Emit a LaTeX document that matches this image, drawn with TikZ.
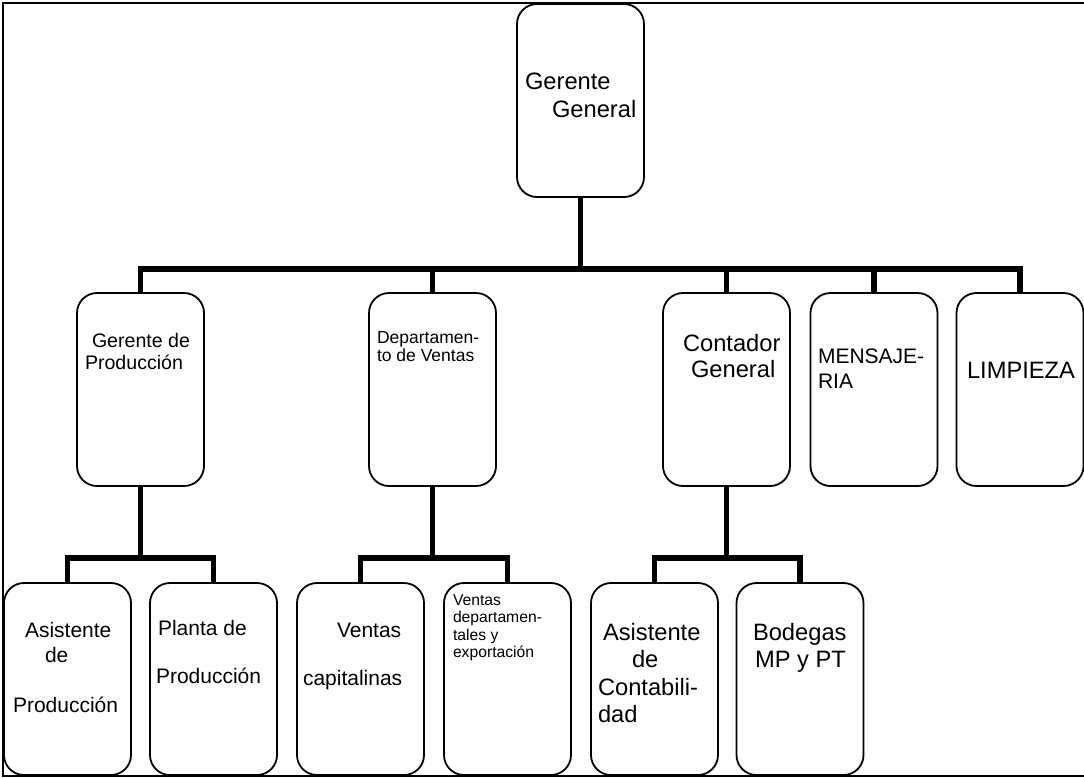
\documentclass[tikz,border=0pt]{standalone}
\usepackage{fontspec}
\setmainfont{Liberation Sans}
\begin{document}
\begin{tikzpicture}[x=1pt,y=-1pt,
  unit/.style={draw=black, line width=1.8pt, rounded corners=20pt, rectangle,
    minimum width=127pt, minimum height=193pt, inner sep=0pt},
  lowunit/.style={unit, minimum height=192pt},
  conn/.style={draw=black, line width=5.5pt, line join=miter},
  lbl/.style={anchor=base west, inner sep=0pt, outer sep=0pt},
  fXL/.style={font=\fontsize{23.7}{27}\selectfont},
  fL/.style={font=\fontsize{21}{24}\selectfont},
  fM/.style={font=\fontsize{19.6}{22}\selectfont},
  fS/.style={font=\fontsize{17.5}{18}\selectfont},
  fXS/.style={font=\fontsize{15.7}{18}\selectfont}]

% page size and outer frame
\useasboundingbox (0,0) rectangle (1084,777);
\draw[line width=1.5pt] (1084,3) -- (3,3) -- (3,776) -- (1084,776);

% level 0
\node[unit] (gg) at (580.5,100.5) {};
% level 1
\node[unit] (gp) at (140.5,389.5) {};
\node[unit] (dv) at (432.5,389.5) {};
\node[unit] (cg) at (726.5,389.5) {};
\node[unit] (me) at (874,389.5) {};
\node[unit] (li) at (1020,389.5) {};
% level 2
\node[lowunit] (ap) at (67.5,679) {};
\node[lowunit] (pp) at (213.5,679) {};
\node[lowunit] (vc) at (360.5,679) {};
\node[lowunit] (vd) at (507.5,679) {};
\node[lowunit] (ac) at (654.5,679) {};
\node[lowunit] (bo) at (800,679) {};

% bus lines
\coordinate (busA) at (0,269);
\coordinate (busB) at (0,558);

\draw[conn] (gg.south) -- (gg.south |- busA);
\draw[conn] (gp.north) -- (gp.north |- busA) -- (li.north |- busA) -- (li.north);
\draw[conn] (dv.north) -- (dv.north |- busA);
\draw[conn] (cg.north) -- (cg.north |- busA);
\draw[conn] (me.north) -- (me.north |- busA);

\draw[conn] (gp.south) -- (gp.south |- busB);
\draw[conn] (ap.north) -- (ap.north |- busB) -- (pp.north |- busB) -- (pp.north);
\draw[conn] (dv.south) -- (dv.south |- busB);
\draw[conn] (vc.north) -- (vc.north |- busB) -- (vd.north |- busB) -- (vd.north);
\draw[conn] (cg.south) -- (cg.south |- busB);
\draw[conn] (ac.north) -- (ac.north |- busB) -- (bo.north |- busB) -- (bo.north);

% labels
\node[lbl,fXL] (gg1) at (525,89) {Gerente};
\node[lbl,fXL] (gg2) at (552,117) {General};

\node[lbl,fM] (gp1) at (92,347) {Gerente de};
\node[lbl,fM] (gp2) at (85,369) {Producción};

\node[lbl,fS] (dv1) at (377,343) {Departamen-};
\node[lbl,fS] (dv2) at (377,361) {to de Ventas};

\node[lbl,fXL] (cg1) at (683,351) {Contador};
\node[lbl,fXL] (cg2) at (691,377) {General};

\node[lbl,fL] (me1) at (818,363) {MENSAJE-};
\node[lbl,fL] (me2) at (818,388) {RIA};

\node[lbl,fXL] (li1) at (967,378) {LIMPIEZA};

\node[lbl,fL] (ap1) at (25,637) {Asistente};
\node[lbl,fL] (ap2) at (45,662) {de};
\node[lbl,fL] (ap3) at (13,712) {Producción};

\node[lbl,fL] (pp1) at (158,635) {Planta de};
\node[lbl,fL] (pp2) at (156,683) {Producción};

\node[lbl,fL] (vc1) at (337,637) {Ventas};
\node[lbl,fL] (vc2) at (303,685) {capitalinas};

\node[lbl,fXS] (vd1) at (453,605) {Ventas};
\node[lbl,fXS] (vd2) at (453,622) {departamen-};
\node[lbl,fXS] (vd3) at (453,640) {tales y};
\node[lbl,fXS] (vd4) at (453,657) {exportación};

\node[lbl,fXL] (ac1) at (603,640) {Asistente};
\node[lbl,fXL] (ac2) at (632,667) {de};
\node[lbl,fXL] (ac3) at (598,695) {Contabili-};
\node[lbl,fXL] (ac4) at (598,722) {dad};

\node[lbl,fXL] (bo1) at (753,640) {Bodegas};
\node[lbl,fXL] (bo2) at (755,667) {MP y PT};
\end{tikzpicture}
\end{document}
